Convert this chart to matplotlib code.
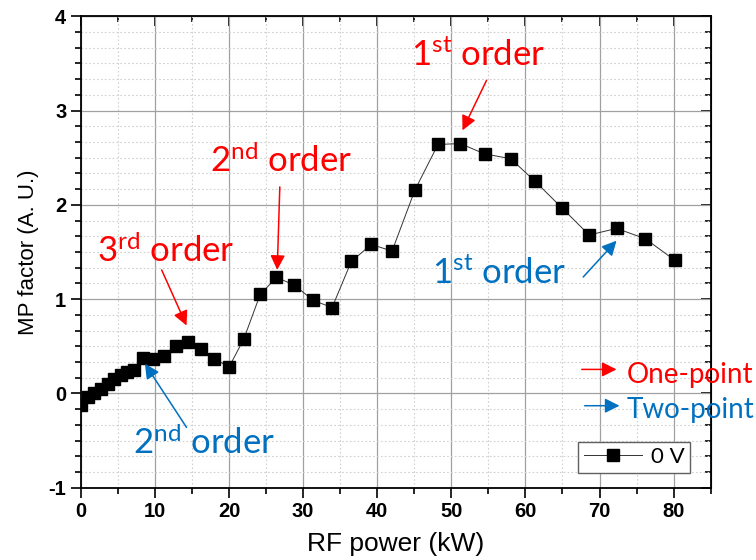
import matplotlib
matplotlib.use("Agg")
import matplotlib.pyplot as plt
from matplotlib.ticker import MultipleLocator

# RF power sweep at 0 V bias
rf_power = [0, 0.9, 1.8, 2.7, 3.6, 4.5, 5.4, 6.2, 7.2, 8.4, 9.8, 11.2, 12.8, 14.4,
            16.2, 18.0, 20.0, 22.0, 24.2, 26.4, 28.8, 31.3, 33.9, 36.5, 39.2, 42.0,
            45.1, 48.2, 51.2, 54.5, 58.0, 61.3, 64.9, 68.6, 72.3, 76.2, 80.2]
mp_factor = [-0.12, -0.04, 0.0, 0.05, 0.10, 0.15, 0.20, 0.23, 0.25, 0.38, 0.37, 0.40,
             0.50, 0.55, 0.47, 0.37, 0.28, 0.58, 1.05, 1.23, 1.15, 0.99, 0.91, 1.40,
             1.58, 1.51, 2.16, 2.64, 2.65, 2.54, 2.49, 2.25, 1.97, 1.68, 1.75, 1.64, 1.41]
series_label = "0 V"

# (text, text position, arrow start, arrow tip)
one_point = [
    ("1$^{\\mathrm{st}}$ order", (53.6, 3.59), (54.75, 3.32), (51.5, 2.79)),
    ("2$^{\\mathrm{nd}}$ order", (27.0, 2.47), (26.85, 2.19), (26.5, 1.31)),
    ("3$^{\\mathrm{rd}}$ order", (11.5, 1.52), (10.9, 1.31), (14.26, 0.72)),
]
two_point = [
    ("1$^{\\mathrm{st}}$ order", (56.5, 1.27), (67.8, 1.235), (72.3, 1.62)),
    ("2$^{\\mathrm{nd}}$ order", (16.6, -0.52), (14.26, -0.36), (8.64, 0.315)),
]
RED = "#ff0000"
BLUE = "#0070c0"

plt.rcParams["font.family"] = ["Liberation Sans", "DejaVu Sans"]
plt.rcParams["axes.unicode_minus"] = False
plt.rcParams["mathtext.fontset"] = "custom"
plt.rcParams["mathtext.rm"] = "Lato"
plt.rcParams["mathtext.it"] = "Lato:italic"
plt.rcParams["mathtext.bf"] = "Lato:bold"
# bold tick labels: ticks pick up the weight when the axes is built
plt.rcParams["font.weight"] = "bold"

fig = plt.figure(figsize=(7.56, 5.6), dpi=100)
ax = fig.add_axes([0.107, 0.129, 0.833, 0.842])
plt.rcParams["font.weight"] = "normal"

ax.plot(rf_power, mp_factor, color="#333333", lw=0.7, marker="s", ms=8,
        mfc="black", mec="black", label=series_label, zorder=3)

ax.set_xlim(0, 85)
ax.set_ylim(-1, 4)
ax.xaxis.set_major_locator(MultipleLocator(10))
ax.xaxis.set_minor_locator(MultipleLocator(5))
ax.yaxis.set_major_locator(MultipleLocator(1))
ax.yaxis.set_minor_locator(MultipleLocator(1 / 6))

ax.grid(which="major", color="#a0a0a0", lw=0.9, ls="-")
ax.grid(which="minor", color="#d0d0d0", lw=0.8, ls=(0, (1.5, 2)))
ax.set_axisbelow(True)

for s in ax.spines.values():
    s.set_linewidth(1.3)
ax.tick_params(which="both", direction="out", width=1.2, labelsize=14.5)
ax.tick_params(which="major", length=7)
ax.tick_params(which="minor", length=4)

# mirrored ticks on top and right, pointing inward
top = ax.secondary_xaxis("top")
top.xaxis.set_major_locator(MultipleLocator(10))
top.xaxis.set_minor_locator(MultipleLocator(5))
top.tick_params(which="both", direction="in", width=1.2, labeltop=False)
top.tick_params(which="major", length=7)
top.tick_params(which="minor", length=4)
right = ax.secondary_yaxis("right")
right.yaxis.set_major_locator(MultipleLocator(1))
right.yaxis.set_minor_locator(MultipleLocator(1 / 6))
right.tick_params(which="both", direction="in", width=1.2, labelright=False)
right.tick_params(which="major", length=7)
right.tick_params(which="minor", length=4)

ax.set_xlabel("RF power (kW)", fontsize=19, fontweight="normal", labelpad=8)
ax.set_ylabel("MP factor (A. U.)", fontsize=16, fontweight="normal", labelpad=7)

arrow_kw = dict(arrowstyle="-|>", lw=1.1, mutation_scale=22, shrinkA=0, shrinkB=0)
for txt, pos, start, tip in one_point:
    ax.text(pos[0], pos[1], txt, color=RED, fontsize=25, family="Lato",
            ha="center", va="center")
    ax.annotate("", xy=tip, xytext=start, arrowprops=dict(color=RED, **arrow_kw))
for txt, pos, start, tip in two_point:
    ax.text(pos[0], pos[1], txt, color=BLUE, fontsize=25, family="Lato",
            ha="center", va="center")
    ax.annotate("", xy=tip, xytext=start, arrowprops=dict(color=BLUE, **arrow_kw))

# key for the arrow colours
ax.annotate("", xy=(72.3, 0.255), xytext=(67.6, 0.255),
            arrowprops=dict(color=RED, **arrow_kw))
ax.text(73.7, 0.2, "One-point", color=RED, fontsize=20, family="Lato",
        ha="left", va="center")
ax.annotate("", xy=(72.7, -0.13), xytext=(68.0, -0.13),
            arrowprops=dict(color=BLUE, **arrow_kw))
ax.text(73.7, -0.18, "Two-point", color=BLUE, fontsize=20, family="Lato",
        ha="left", va="center")

leg = ax.legend(loc="lower right", bbox_to_anchor=(0.967, 0.032), borderaxespad=0,
                fancybox=False, edgecolor="#606060", framealpha=1,
                prop={"family": "Lato", "size": 16, "weight": "normal"},
                handlelength=2.6, borderpad=0.25, handletextpad=0.4)
leg.get_frame().set_linewidth(1.0)

fig.savefig("out.png", dpi=100)
